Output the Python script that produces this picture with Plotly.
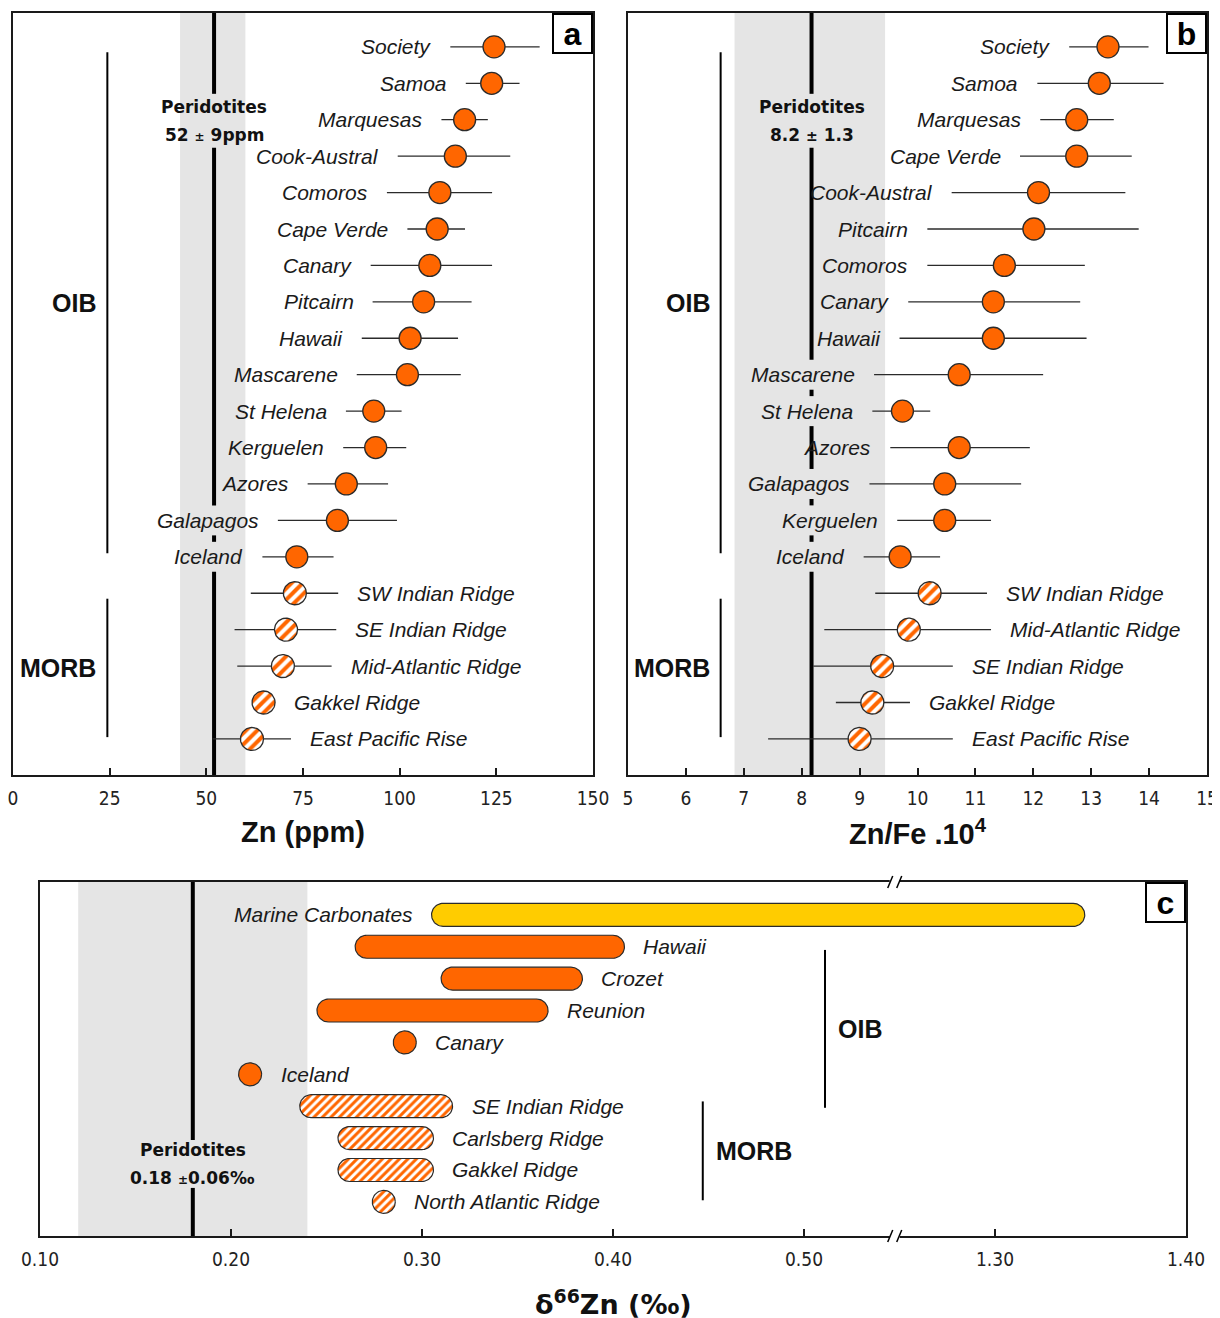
import numpy as np
import plotly.graph_objects as go

W, H = 1220, 1318
OFF = 8  # page body margin, px

# ---- panel a : Zn (ppm)
zn_sites = ["Society", "Samoa", "Marquesas", "Cook-Austral", "Comoros", "Cape Verde",
            "Canary", "Pitcairn", "Hawaii", "Mascarene", "St Helena", "Kerguelen",
            "Azores", "Galapagos", "Iceland", "SW Indian Ridge", "SE Indian Ridge",
            "Mid-Atlantic Ridge", "Gakkel Ridge", "East Pacific Rise"]
zn_group = ["OIB"] * 15 + ["MORB"] * 5
zn_mean = [124.4, 123.8, 116.8, 114.4, 110.4, 109.7, 107.8, 106.2, 102.7, 102.0,
           93.3, 93.8, 86.2, 83.9, 73.4, 72.9, 70.6, 69.8, 64.8, 61.8]
zn_low = [113.1, 117.1, 110.8, 99.5, 96.7, 102.0, 92.5, 93.0, 90.2, 88.9,
          86.1, 85.4, 76.2, 68.5, 64.5, 61.5, 57.3, 58.0, None, 51.6]
zn_high = [136.2, 131.0, 122.8, 128.6, 123.9, 116.9, 123.9, 118.6, 115.1, 115.8,
           100.5, 101.7, 97.0, 99.3, 82.9, 84.1, 83.6, 82.4, None, 71.9]

# ---- panel b : Zn/Fe x 10^4
znfe_sites = ["Society", "Samoa", "Marquesas", "Cape Verde", "Cook-Austral", "Pitcairn",
              "Comoros", "Canary", "Hawaii", "Mascarene", "St Helena", "Azores",
              "Galapagos", "Kerguelen", "Iceland", "SW Indian Ridge", "Mid-Atlantic Ridge",
              "SE Indian Ridge", "Gakkel Ridge", "East Pacific Rise"]
znfe_group = ["OIB"] * 15 + ["MORB"] * 5
znfe_mean = [13.29, 13.14, 12.75, 12.75, 12.09, 12.01, 11.50, 11.31, 11.31, 10.72,
             9.74, 10.72, 10.47, 10.47, 9.70, 10.21, 9.85, 9.39, 9.22, 9.00]
znfe_low = [12.62, 12.07, 12.12, 11.77, 10.59, 10.17, 10.17, 9.84, 9.69, 9.25,
            9.22, 9.53, 9.17, 9.65, 9.07, 9.27, 8.39, 8.20, 8.59, 7.42]
znfe_high = [13.99, 14.25, 13.39, 13.70, 13.59, 13.82, 12.89, 12.81, 12.92, 12.17,
             10.22, 11.94, 11.79, 11.27, 10.39, 11.20, 11.27, 10.61, 9.87, 10.61]

# ---- panel c : delta66Zn ranges
d66_sites = ["Marine Carbonates", "Hawaii", "Crozet", "Reunion", "Canary", "Iceland",
             "SE Indian Ridge", "Carlsberg Ridge", "Gakkel Ridge", "North Atlantic Ridge"]
d66_group = ["Carbonate", "OIB", "OIB", "OIB", "OIB", "OIB", "MORB", "MORB", "MORB", "MORB"]
d66_min = [0.305, 0.265, 0.310, 0.245, 0.291, 0.210, 0.236, 0.256, 0.256, 0.280]
d66_max = [1.347, 0.406, 0.384, 0.366, 0.291, 0.210, 0.316, 0.306, 0.306, 0.280]
d66_ticks = [0.10, 0.20, 0.30, 0.40, 0.50, 1.30, 1.40]

# peridotite reference: (mean, band low, band high)
perid_zn = (52.0, 43.2, 60.1)
perid_znfe = (8.17, 6.84, 9.44)
perid_d66 = (0.18, 0.12, 0.24)


def brk(v):
    # broken delta66Zn axis: 1.30 sits right after 0.50
    return v - 0.70 if v > 0.9 else v


ORANGE = "#FF6600"
YELLOW = "#FFCC00"
EDGE = "#2b2b2b"
BAND = "#e5e5e5"
R = 11.5      # marker radius, px
GAP = 17      # label gap, px
LABEL_FONT = dict(family="Liberation Sans, Arial, sans-serif", size=21, color="#1a1a1a")
BOLD_FONT = dict(family="Liberation Sans, Arial, sans-serif", size=25, color="#111")
PERID_FONT = dict(family="DejaVu Sans, Verdana, sans-serif", size=17, color="#111")

PANELS = {
    "a": dict(px=(13, 593), py=(13, 775), xr=(0, 150), yr=(-0.93, 19.99), xa="x", ya="y"),
    "b": dict(px=(628, 1207), py=(13, 775), xr=(5, 15), yr=(-0.93, 19.99), xa="x2", ya="y2"),
    "c": dict(px=(40, 1186), py=(882, 1236), xr=(0.10, 0.70), yr=(-1.03, 10.07), xa="x3", ya="y3"),
}


def scale(p):
    ppx = (p["px"][1] - p["px"][0]) / (p["xr"][1] - p["xr"][0])
    ppy = (p["py"][1] - p["py"][0]) / (p["yr"][1] - p["yr"][0])
    return ppx, ppy


def circle(cx, cy, rx, ry, n=60):
    t = np.linspace(0, 2 * np.pi, n)
    return list(cx + rx * np.cos(t)), list(cy + ry * np.sin(t))


def capsule(x0, x1, cy, rx, ry, n=30):
    c0, c1 = x0 + rx, x1 - rx
    if c1 < c0:
        c0 = c1 = (x0 + x1) / 2
    t1 = np.linspace(np.pi / 2, 3 * np.pi / 2, n)
    t2 = np.linspace(-np.pi / 2, np.pi / 2, n)
    xs = list(c0 + rx * np.cos(t1)) + list(c1 + rx * np.cos(t2)) + [c0]
    ys = list(cy + ry * np.sin(t1)) + list(cy + ry * np.sin(t2)) + [cy + ry]
    return xs, ys


fig = go.Figure()
shapes = []
HATCH_DOT = dict(shape="/", fgcolor=ORANGE, bgcolor="white", fgopacity=1,
                 size=8, solidity=0.5, fillmode="replace")
HATCH_BAR = dict(shape="/", fgcolor=ORANGE, bgcolor="white", fgopacity=1,
                 size=6, solidity=0.5, fillmode="replace")


def perid_panel(key, perid, label_rows, label_center, text2, gap_half):
    p = PANELS[key]
    ppx, ppy = scale(p)
    xa, ya = p["xa"], p["ya"]
    mean, lo, hi = perid
    shapes.append(dict(type="rect", xref=xa, yref=ya + " domain", x0=lo, x1=hi, y0=0, y1=1,
                       fillcolor=BAND, line=dict(width=0), layer="below"))
    gaps = [(label_center - gap_half / ppy, label_center + gap_half / ppy)]
    gaps += [(r - 15 / ppy, r + 15 / ppy) for r in label_rows]
    gaps.sort()
    ys, xs = [], []
    start = p["yr"][0]
    for g0, g1 in gaps:
        xs += [mean, mean, None]
        ys += [start, g0, None]
        start = g1
    xs += [mean, mean]
    ys += [start, p["yr"][1]]
    fig.add_trace(go.Scatter(x=xs, y=ys, mode="lines", line=dict(color="black", width=4),
                             xaxis=xa, yaxis=ya, hoverinfo="skip"))
    for txt, dy in (("<b>Peridotites</b>", 14), (text2, -14)):
        fig.add_annotation(x=mean, y=label_center, xref=xa, yref=ya, text=txt, yshift=dy,
                           showarrow=False, font=PERID_FONT)


def dot_panel(key, sites, groups, mean, low, high):
    p = PANELS[key]
    ppx, ppy = scale(p)
    xa, ya = p["xa"], p["ya"]
    ex, ey = [], []
    for i, (lo, hi) in enumerate(zip(low, high)):
        if lo is None:
            continue
        ex += [lo, hi, None]
        ey += [i, i, None]
    fig.add_trace(go.Scatter(x=ex, y=ey, mode="lines", line=dict(color=EDGE, width=1.3),
                             xaxis=xa, yaxis=ya, hoverinfo="skip"))
    oib = [i for i, g in enumerate(groups) if g == "OIB"]
    fig.add_trace(go.Scatter(x=[mean[i] for i in oib], y=oib, mode="markers",
                             marker=dict(size=2 * R - 1, color=ORANGE, line=dict(color=EDGE, width=1.3)),
                             xaxis=xa, yaxis=ya))
    for i, g in enumerate(groups):
        if g != "MORB":
            continue
        cx, cy = circle(mean[i], i, R / ppx, R / ppy)
        fig.add_trace(go.Scatter(x=cx, y=cy, mode="lines", fill="toself", fillcolor="white",
                                 fillpattern=HATCH_DOT, line=dict(color=EDGE, width=1.3),
                                 xaxis=xa, yaxis=ya, hoverinfo="skip"))
    for i, (s, g) in enumerate(zip(sites, groups)):
        if g == "OIB":
            if low[i] is not None and low[i] < mean[i] - R / ppx:
                x, sh = low[i], -GAP
            else:
                x, sh = mean[i], -(R + GAP)
            anchor = "right"
        else:
            if high[i] is not None and high[i] > mean[i] + R / ppx:
                x, sh = high[i], GAP
            else:
                x, sh = mean[i], R + GAP
            anchor = "left"
        fig.add_annotation(x=x, y=i, xref=xa, yref=ya, text=f"<i>{s}</i>", xanchor=anchor,
                           xshift=sh, showarrow=False, font=LABEL_FONT)


def bracket(key, x, r0, r1, text, side):
    p = PANELS[key]
    shapes.append(dict(type="line", xref=p["xa"], yref=p["ya"], x0=x, x1=x, y0=r0, y1=r1,
                       line=dict(color="black", width=2)))
    fig.add_annotation(x=x, y=(r0 + r1) / 2, xref=p["xa"], yref=p["ya"], text=f"<b>{text}</b>",
                       xanchor="right" if side == "left" else "left",
                       xshift=-9 if side == "left" else 11, showarrow=False, font=BOLD_FONT)


# panel a
perid_panel("a", perid_zn, [13, 14], 2.03,
            "<b>52 <span style='font-size:12px'>±</span> 9ppm</b>", 27)
dot_panel("a", zn_sites, zn_group, zn_mean, zn_low, zn_high)
bracket("a", 24.4, 0.15, 13.9, "OIB", "left")
bracket("a", 24.4, 15.15, 18.95, "MORB", "left")

# panel b
perid_panel("b", perid_znfe, [9, 10, 12, 13, 14], 2.03,
            "<b>8.2 <span style='font-size:14px'>±</span> 1.3</b>", 27)
dot_panel("b", znfe_sites, znfe_group, znfe_mean, znfe_low, znfe_high)
bracket("b", 6.6, 0.15, 13.9, "OIB", "left")
bracket("b", 6.6, 15.15, 18.95, "MORB", "left")

# panel c
pc = PANELS["c"]
ppx_c, ppy_c = scale(pc)
perid_panel("c", perid_d66, [], 7.81,
            "<b>0.18 <span style='font-size:12px'>±</span>0.06‰</b>", 24)
for i, (s, g, lo, hi) in enumerate(zip(d66_sites, d66_group, d66_min, d66_max)):
    x0, x1 = brk(lo), brk(hi)
    rx, ry = R / ppx_c, R / ppy_c
    if hi > lo:
        xs, ys = capsule(x0, x1, i, rx, ry)
    else:
        xs, ys = circle(x0, i, rx, ry)
    kw = dict(fillcolor=YELLOW if g == "Carbonate" else ORANGE)
    if g == "MORB":
        kw = dict(fillcolor="white", fillpattern=HATCH_BAR)
    fig.add_trace(go.Scatter(x=xs, y=ys, mode="lines", fill="toself", line=dict(color=EDGE, width=1.2),
                             xaxis="x3", yaxis="y3", hoverinfo="skip", **kw))
    if g == "Carbonate":
        fig.add_annotation(x=x0, y=i, xref="x3", yref="y3", text=f"<i>{s}</i>", xanchor="right",
                           xshift=-GAP, showarrow=False, font=LABEL_FONT)
    else:
        sh = GAP if hi > lo else R + GAP
        fig.add_annotation(x=x1, y=i, xref="x3", yref="y3", text=f"<i>{s}</i>", xanchor="left",
                           xshift=sh, showarrow=False, font=LABEL_FONT)
bracket("c", 0.511, 1.1, 6.05, "OIB", "right")
bracket("c", 0.447, 5.85, 8.95, "MORB", "right")

# axis break marks on panel c
BREAK = 0.5475
fy = 1 / (pc["py"][1] - pc["py"][0])
for yf in (0, 1):
    shapes.append(dict(type="line", xref="x3", yref="y3 domain", x0=BREAK - 5 / ppx_c,
                       x1=BREAK + 5 / ppx_c, y0=yf, y1=yf, line=dict(color="white", width=5),
                       layer="above"))
    for c in (BREAK - 4.5 / ppx_c, BREAK + 4.5 / ppx_c):
        shapes.append(dict(type="line", xref="x3", yref="y3 domain", x0=c - 2.5 / ppx_c,
                           x1=c + 2.5 / ppx_c, y0=yf - 6 * fy, y1=yf + 6 * fy,
                           line=dict(color="black", width=1.5), layer="above"))

# panel letters and axis titles
for key in ("a", "b", "c"):
    p = PANELS[key]
    fig.add_annotation(x=1, y=1, xref=p["xa"] + " domain", yref=p["ya"] + " domain",
                       text=f"<b>{key}</b>", xanchor="right", yanchor="top", showarrow=False,
                       width=37, height=37, bgcolor="white", bordercolor="black", borderwidth=2,
                       borderpad=0, font=dict(family="Liberation Sans, Arial, sans-serif",
                                              size=32, color="black"))

TITLE_FONT = dict(family="Liberation Sans, Arial, sans-serif", size=29, color="#111")
fig.add_annotation(x=0.5, y=1 - (832 - OFF) / H, xref="x domain", yref="paper",
                   text="<b>Zn (ppm)</b>", showarrow=False, font=TITLE_FONT,
                   xanchor="center", yanchor="middle")
fig.add_annotation(x=0.5, y=1 - (832 - OFF) / H, xref="x2 domain", yref="paper",
                   text="<b>Zn/Fe .10<sup>4</sup></b>", showarrow=False, font=TITLE_FONT,
                   xanchor="center", yanchor="middle")
fig.add_annotation(x=0.5, y=1 - (1302 - OFF) / H, xref="x3 domain", yref="paper",
                   text="<b>δ<sup>66</sup>Zn (‰)</b>", showarrow=False,
                   xanchor="center", yanchor="middle",
                   font=dict(family="DejaVu Sans, Verdana, sans-serif", size=27, color="#111"))

TICK_FONT = dict(family="DejaVu Sans Condensed, Liberation Sans Narrow, DejaVu Sans, sans-serif",
                 size=19, color="#222")
axis_common = dict(showline=True, mirror=True, linecolor="#1a1a1a", linewidth=2,
                   showgrid=False, zeroline=False, automargin=False)
x_common = dict(axis_common, ticks="inside", ticklen=7, tickwidth=1.5, tickcolor="#1a1a1a",
                tickfont=TICK_FONT, ticklabelstandoff=5, ticklabeloverflow="allow")
y_common = dict(axis_common, ticks="", showticklabels=False)


def dom(p):
    x0, x1 = p["px"][0] - OFF, p["px"][1] - OFF
    y0, y1 = p["py"][0] - OFF, p["py"][1] - OFF
    return ([x0 / W, x1 / W], [1 - y1 / H, 1 - y0 / H])


da, db, dc = dom(PANELS["a"]), dom(PANELS["b"]), dom(PANELS["c"])
fig.update_layout(
    width=W, height=H, margin=dict(l=0, r=0, t=0, b=0, autoexpand=False),
    paper_bgcolor="white", plot_bgcolor="white", showlegend=False,
    xaxis=dict(x_common, domain=da[0], range=list(PANELS["a"]["xr"]), anchor="y",
               tickvals=list(range(0, 151, 25))),
    yaxis=dict(y_common, domain=da[1], range=PANELS["a"]["yr"][::-1], anchor="x"),
    xaxis2=dict(x_common, domain=db[0], range=list(PANELS["b"]["xr"]), anchor="y2",
                tickvals=list(range(5, 16))),
    yaxis2=dict(y_common, domain=db[1], range=PANELS["b"]["yr"][::-1], anchor="x2"),
    xaxis3=dict(x_common, domain=dc[0], range=list(PANELS["c"]["xr"]), anchor="y3",
                tickvals=[brk(v) for v in d66_ticks], ticktext=[f"{v:.2f}" for v in d66_ticks]),
    yaxis3=dict(y_common, domain=dc[1], range=PANELS["c"]["yr"][::-1], anchor="x3"),
    shapes=shapes,
)

fig.write_html("out.html")
